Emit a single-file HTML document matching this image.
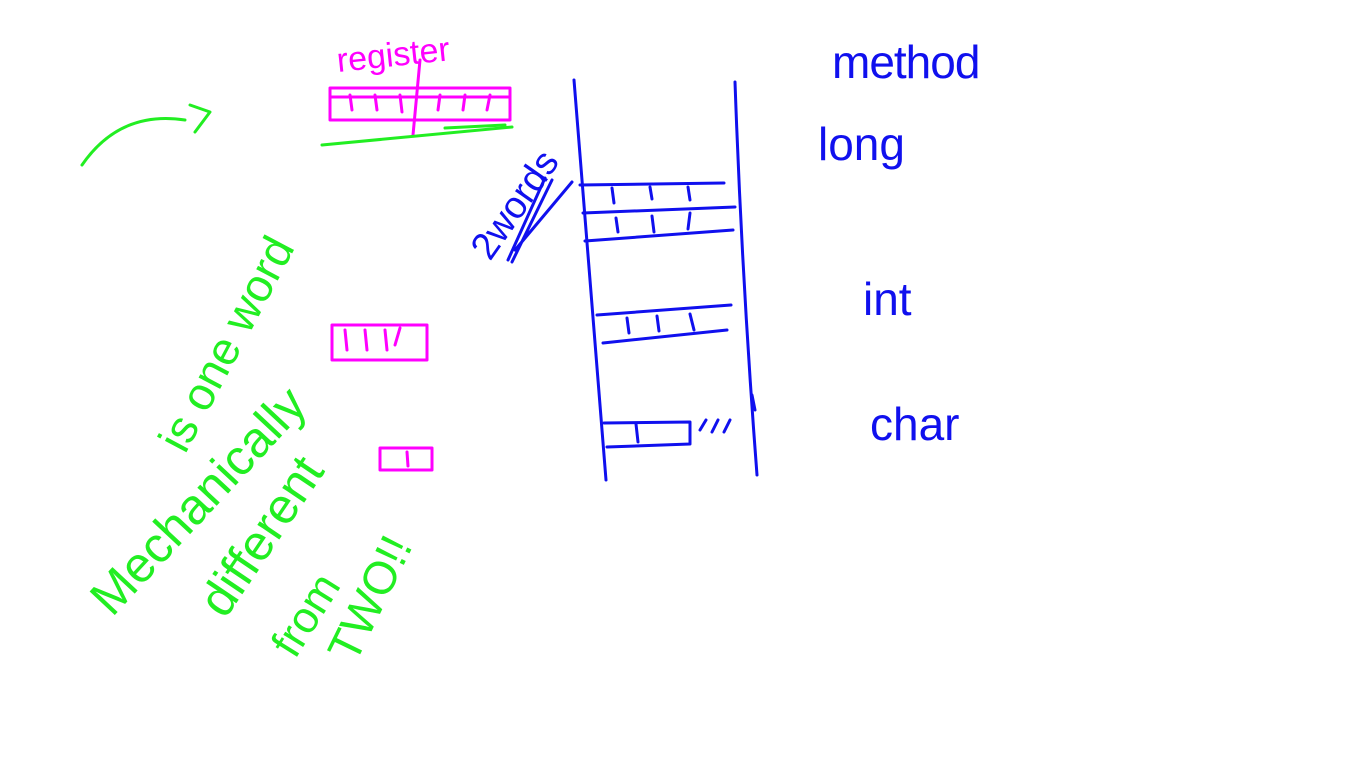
<!DOCTYPE html>
<html><head><meta charset="utf-8"><style>
html,body{margin:0;padding:0;background:#fff;width:1366px;height:768px;overflow:hidden}
svg{display:block}
text{font-family:"Liberation Sans",sans-serif}
</style></head><body>
<svg width="1366" height="768" viewBox="0 0 1366 768">
<g fill="none" stroke-linecap="round" stroke-linejoin="round">
<g stroke="#1010ee" stroke-width="3">
<path d="M574 80 Q590 280 606 480"/>
<path d="M735 82 Q742 280 757 475"/>
<path d="M580 185 L724 183"/>
<path d="M583 213 L735 207"/>
<path d="M585 241 L733 230"/>
<path d="M612 188 L614 203 M650 187 L652 199 M688 187 L690 200"/>
<path d="M616 218 L618 232 M652 216 L654 232 M690 213 L688 229"/>
<path d="M597 315 L731 305"/>
<path d="M603 343 L727 330"/>
<path d="M627 318 L629 333 M657 316 L659 331 M690 314 L694 330"/>
<path d="M604 423 L690 422 L690 444 L607 447"/>
<path d="M636 424 L638 442"/>
<path d="M700 430 L706 420 M712 432 L718 420 M724 432 L730 420"/>
<path d="M752 395 L755 410"/>
<path d="M545 178 L508 260 M552 180 L512 262 M572 182 L515 250"/>
</g>
<g stroke="#ff00ff" stroke-width="3">
<path d="M330 88 L510 88 L510 120 L330 120 Z"/>
<path d="M330 97 L510 97"/>
<path d="M350 95 L352 110 M375 95 L377 110 M400 95 L402 112 M440 95 L438 110 M465 95 L463 110 M490 95 L487 110"/>
<path d="M420 60 L413 135"/>
<path d="M332 325 L427 325 L427 360 L332 360 Z"/>
<path d="M345 330 L347 350 M365 330 L367 350 M385 330 L387 350 M400 328 L395 345"/>
<path d="M380 448 L432 448 L432 470 L380 470 Z"/>
<path d="M407 452 L408 466"/>
</g>
<g stroke="#22ee22" stroke-width="3">
<path d="M82 165 Q120 110 185 120"/>
<path d="M190 105 L210 112 L195 132"/>
<path d="M322 145 L512 127"/>
<path d="M445 128 L505 125"/>
</g>
</g>
<g fill="#1010ee" font-size="46">
<text x="832" y="78" letter-spacing="-1">method</text>
<text x="818" y="160">long</text>
<text x="863" y="315">int</text>
<text x="870" y="440">char</text>
<text x="0" y="0" font-size="38" transform="translate(490 262) rotate(-55)">2words</text>
</g>
<text x="338" y="72" fill="#ff00ff" font-size="34" transform="rotate(-6 338 72)">register</text>
<g fill="#22ee22" font-size="44">
<text transform="translate(185 455) rotate(-62)" font-size="46">is  one word</text>
<text transform="translate(112 618) rotate(-47)" font-size="50">Mechanically</text>
<text transform="translate(225 620) rotate(-56)" font-size="50">different</text>
<text transform="translate(295 660) rotate(-58)">from</text>
<text transform="translate(355 665) rotate(-64)" font-size="46">TWO!!</text>
</g>
</svg>
</body></html>
